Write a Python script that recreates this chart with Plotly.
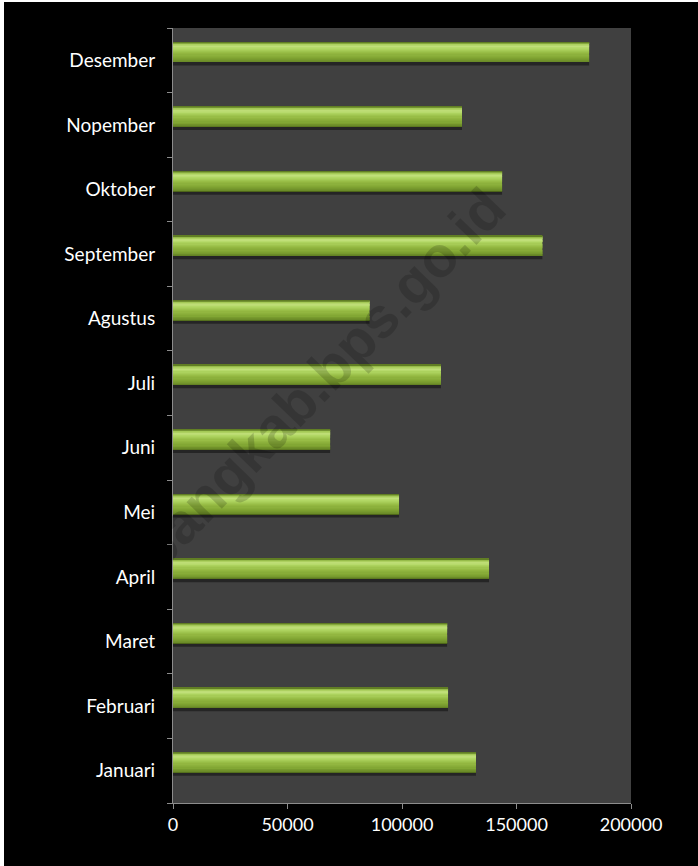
import plotly.graph_objects as go

months = ["Januari", "Februari", "Maret", "April", "Mei", "Juni", "Juli",
          "Agustus", "September", "Oktober", "Nopember", "Desember"]
values = [132300, 120100, 119700, 138000, 98700, 68600, 117000,
          85800, 161300, 143700, 126200, 181700]
x_ticks = [0, 50000, 100000, 150000, 200000]

fig = go.Figure()

# vertical colour profile of the bevelled bar (position in category units, rgb)
stops = [
    (-0.026, (74, 97, 23)),
    (-0.012, (104, 136, 38)),
    (0.040, (128, 164, 50)),
    (0.120, (148, 185, 66)),
    (0.190, (176, 214, 98)),
    (0.225, (194, 224, 124)),
    (0.262, (160, 198, 80)),
    (0.283, (88, 116, 30)),
]
n_sub = 4
bands = [(-0.080, -0.026, "rgba(0,0,0,0.42)")]
for (p0, c0), (p1, c1) in zip(stops[:-1], stops[1:]):
    for k in range(n_sub):
        lo = p0 + (p1 - p0) * k / n_sub
        hi = p0 + (p1 - p0) * (k + 1) / n_sub
        t = (k + 0.5) / n_sub
        c = tuple(round(a + (b - a) * t) for a, b in zip(c0, c1))
        bands.append((lo, hi, "rgb(%d,%d,%d)" % c))

for lo, hi, col in bands:
    fig.add_trace(go.Bar(
        x=values, y=months, orientation="h",
        offset=lo, width=(hi - lo) * 1.02,
        marker=dict(color=col, line=dict(width=0)),
        hoverinfo="skip", showlegend=False,
    ))

fig.add_annotation(
    text="<b>bangkab.bps.go.id</b>", xref="paper", yref="paper",
    x=0.322, y=0.548, xanchor="center", yanchor="middle",
    textangle=-46, showarrow=False,
    font=dict(family="Liberation Sans", size=57, color="rgba(0,0,0,0.17)"),
)

fig.update_layout(
    width=694, height=864,
    barmode="overlay",
    paper_bgcolor="black",
    plot_bgcolor="#404040",
    margin=dict(l=169, r=67, t=26, b=63),
    font=dict(family="Lato", size=18, color="white"),
    xaxis=dict(
        range=[0, 200000], tickvals=x_ticks, ticktext=[str(v) for v in x_ticks],
        showgrid=False, zeroline=False, showline=True, linecolor="#8c8c8c",
        linewidth=1, ticks="outside", ticklen=5, tickcolor="#8c8c8c",
        tickfont=dict(size=18, color="white"),
    ),
    yaxis=dict(
        categoryorder="array", categoryarray=months,
        showgrid=False, zeroline=False, showline=True, linecolor="#8c8c8c",
        linewidth=1, ticks="outside", ticklen=5, tickcolor="#8c8c8c",
        tickson="boundaries", tickfont=dict(size=19, color="white"),
        ticklabelstandoff=13,
    ),
)

post = ("document.body.style.margin='2px 0 0 4px';"
        "document.body.style.background='white';"
        "document.body.style.overflow='hidden';")
fig.write_html("out.html", post_script=post)
